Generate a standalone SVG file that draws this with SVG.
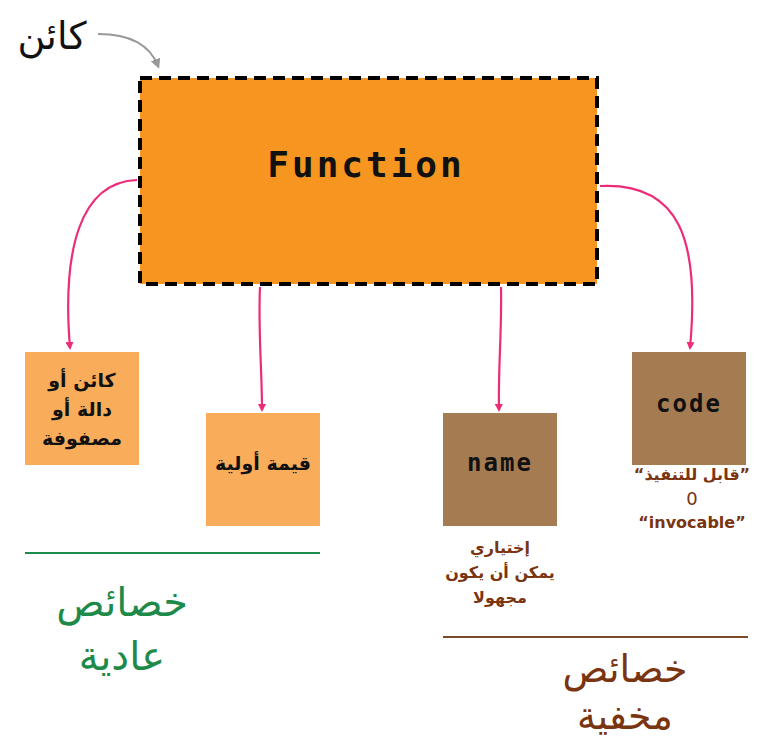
<svg xmlns="http://www.w3.org/2000/svg" width="758" height="744" viewBox="0 0 758 744">
<defs>
<style>
.ar{font-family:"DejaVu Sans","Noto Sans",sans-serif;}
.mono{font-family:"DejaVu Sans Mono","Liberation Mono",monospace;font-weight:bold;fill:#111;}
.conn{fill:none;stroke:#EC2C79;stroke-width:2.2;}
.light{fill:#F9AC5A;}
.dark{fill:#A57C52;}
.brown{fill:#7A3410;}
</style>
<marker id="ah" markerWidth="8" markerHeight="8" refX="6" refY="4" orient="auto" markerUnits="userSpaceOnUse">
<path d="M0,0 L8,4 L0,8 z" fill="#EC2C79"/>
</marker>
<marker id="gh" markerWidth="10" markerHeight="10" refX="7" refY="5" orient="auto" markerUnits="userSpaceOnUse">
<path d="M0,0 L10,5 L0,10 z" fill="#999"/>
</marker>
</defs>
<rect width="758" height="744" fill="#fff"/>
<g id="connectors">
<path class="conn" d="M137,180 C80,182 62,250 70,348" marker-end="url(#ah)"/>
<path class="conn" d="M260,287 C258,330 262,370 262,410" marker-end="url(#ah)"/>
<path class="conn" d="M501,287 C502,330 498,370 499,410" marker-end="url(#ah)"/>
<path class="conn" d="M600,186 C680,182 700,240 690,348" marker-end="url(#ah)"/>
<path d="M98,34 C130,34 150,45 158,66" fill="none" stroke="#999" stroke-width="2" marker-end="url(#gh)"/>
</g>
<g id="label-object">
<text class="ar" x="52" y="49" font-size="38" text-anchor="middle" fill="#111">كائن</text>
</g>
<g id="function">
<rect x="140" y="78" width="457" height="206" fill="#F6951F" stroke="#000" stroke-width="4" stroke-dasharray="12,7"/>
<text class="mono" x="366" y="177" font-size="36" letter-spacing="3" text-anchor="middle">Function</text>
</g>
<g id="obj">
<rect class="light" x="25" y="352" width="114" height="113"/>
<text class="ar" font-size="19" font-weight="bold" text-anchor="middle" fill="#111"><tspan x="82" y="387">كائن أو</tspan><tspan x="82" y="416">دالة أو</tspan><tspan x="82" y="445">مصفوفة</tspan></text>
</g>
<g id="primitive">
<rect class="light" x="206" y="413" width="114" height="113"/>
<text class="ar" x="263" y="470" font-size="19" font-weight="bold" text-anchor="middle" fill="#111">قيمة أولية</text>
</g>
<g id="name">
<rect class="dark" x="443" y="413" width="114" height="113"/>
<text class="mono" x="500" y="471" font-size="24" letter-spacing="2" text-anchor="middle">name</text>
<text class="ar brown" font-size="16" font-weight="bold" text-anchor="middle"><tspan x="500" y="553">إختياري</tspan><tspan x="500" y="578">يمكن أن يكون</tspan><tspan x="500" y="603">مجهولا</tspan></text>
</g>
<g id="code">
<rect class="dark" x="632" y="352" width="114" height="113"/>
<text class="mono" x="689" y="412" font-size="24" letter-spacing="2" text-anchor="middle">code</text>
<text class="ar brown" font-size="16" font-weight="bold" text-anchor="middle"><tspan x="692" y="480">“قابل للتنفيذ”</tspan><tspan x="692" y="505" font-size="18" font-weight="normal">0</tspan><tspan x="692" y="528">“invocable”</tspan></text>
</g>
<g id="regular">
<line x1="25" y1="553" x2="320" y2="553" stroke="#1E8A4A" stroke-width="2"/>
<text class="ar" font-size="40" text-anchor="middle" fill="#1E8A4A"><tspan x="122" y="616">خصائص</tspan><tspan x="122" y="670">عادية</tspan></text>
</g>
<g id="hidden">
<line x1="443" y1="637" x2="748" y2="637" stroke="#7A4A2A" stroke-width="2"/>
<text class="ar" font-size="38" text-anchor="middle" fill="#7A3410"><tspan x="625" y="682">خصائص</tspan><tspan x="625" y="729">مخفية</tspan></text>
</g>
</svg>
